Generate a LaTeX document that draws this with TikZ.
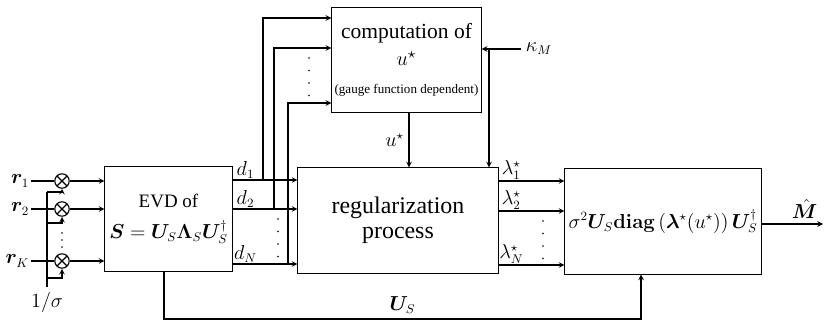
\documentclass[tikz,border=0pt]{standalone}
\usepackage[no-math]{fontspec}
\setmainfont{Liberation Serif}
\usepackage{amsmath,bm}
\tikzset{
  blk/.style={draw, line width=0.7pt, inner sep=2pt, align=center},
  mult/.style={draw, circle, line width=0.8pt, minimum size=0.36cm, inner sep=0pt,
    path picture={\draw[line width=0.8pt] (path picture bounding box.north west) -- (path picture bounding box.south east)
      (path picture bounding box.north east) -- (path picture bounding box.south west);}},
}
\begin{document}
\begin{tikzpicture}[>=stealth, x=0.025cm, y=-0.025cm, line width=0.8pt, every node/.style={font=\fontsize{13.5}{16}\selectfont}]
\useasboundingbox (0,0) rectangle (824,321);

% blocks
\node[blk, minimum width=3.175cm, minimum height=2.6cm] (evd) at (168.5,219)
     {EVD of\\[6pt] $\bm{S}=\bm{U}_S\bm{\Lambda}_S\bm{U}_S^{\dagger}$};
\node[blk, minimum width=3.625cm, minimum height=2.6cm, font=\fontsize{15.3}{19}\selectfont] (comp) at (406.5,60)
     {computation of\\ $u^{\star}$\\[1pt] {\fontsize{9.3}{11}\selectfont (gauge function dependent)}};
\node[blk, minimum width=5cm, minimum height=2.625cm, font=\fontsize{17}{18}\selectfont] (reg) at (398,220.5)
     {regularization\\ process};
\node[blk, minimum width=4.9cm, minimum height=2.625cm] (out) at (663,221.5)
     {$\sigma^2\bm{U}_S\mathbf{diag}\left(\bm{\lambda}^{\star}(u^{\star})\right)\bm{U}_S^{\dagger}$};

% inputs
\foreach \n/\y in {1/181, 2/209, K/261} {
  \node[mult] (m\n) at (62,\y) {};
  \node[anchor=east, inner sep=1pt] (r\n) at (31,\y) {$\bm{r}_{\n}$};
  \draw (r\n) -- (m\n);
  \draw[->] (m\n) -- (evd.west |- m\n);
}
\foreach \k in {0,1,2} \fill (62,233+\k*7) circle (0.65pt);
\node (sig) at (47,302) {$1/\sigma$};
\coordinate (s1) at (47,192);
\coordinate (s2) at (47,223);
\coordinate (sK) at (47,278);
\draw (sig) -- (s1);
\foreach \n in {1,2,K}
  \draw[->] (s\n) -| (m\n.south);

% eigenvalues
\foreach \n/\y/\x/\t in {1/180/263/18, 2/209/274/48, N/264/288/103} {
  \coordinate (b\n) at (\x,\y);
  \draw[->] (evd.east |- b\n) -- (reg.west |- b\n) node[pos=0.2, above, inner sep=0.5pt] {$d_{\n}$};
  \draw[->] (b\n) |- (comp.west |- 0,\t);
}
\foreach \k in {0,...,3} {
  \fill (278,219+\k*12.5) circle (0.65pt);
  \fill (309,58+\k*12.5) circle (0.65pt);
  \fill (543,221+\k*12.5) circle (0.65pt);
}

% u* and kappa
\coordinate (ua) at (409,0);
\draw[->] (comp.south -| ua) -- (reg.north -| ua) node[midway, left] {$u^{\star}$};
\node (kap) at (539,49) {$\kappa_M$};
\coordinate (kb) at (489,49);
\draw[->] (kap.west) -- (comp.east |- kap);
\draw[->] (kb) -- (reg.north -| kb);

% thresholded eigenvalues
\foreach \n/\y in {1/181, 2/211, N/265} {
  \coordinate (l\n) at (498,\y);
  \draw[->] (l\n) -- (out.west |- l\n) node[pos=0.2, above, inner sep=0.5pt] {$\lambda_{\n}^{\star}$};
}

% output and U_S
\coordinate (mh) at (823,224);
\draw[->] (out.east |- mh) -- (mh) node[pos=0.7, above] {$\hat{\bm{M}}$};
\coordinate (u1) at (164,319);
\coordinate (u2) at (641,319);
\draw[->] (evd.south -| u1) -- (u1) -- (u2) node[midway, above] {$\bm{U}_S$} -- (out.south -| u2);

\end{tikzpicture}
\end{document}
